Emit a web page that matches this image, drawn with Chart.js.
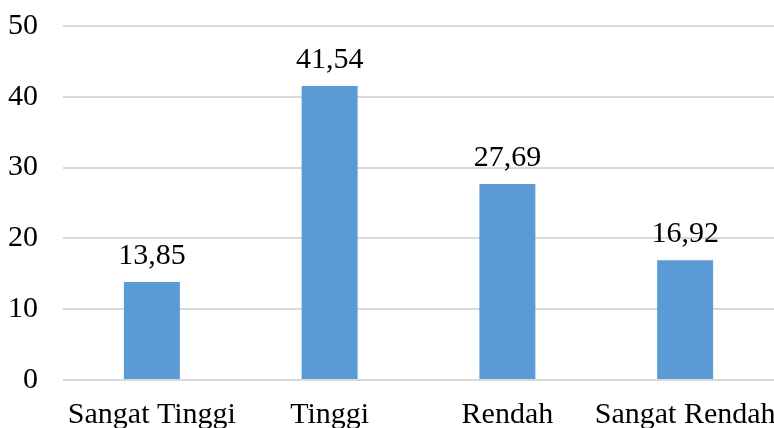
<!DOCTYPE html>
<html>
<head>
<meta charset="utf-8">
<script src="https://cdn.jsdelivr.net/npm/chart.js@4"></script>
<style>
  html, body { margin: 0; padding: 0; background: #fff; }
  #wrap { width: 774px; height: 428px; }
</style>
</head>
<body>
<div id="wrap"><canvas id="barChart" width="774" height="428"></canvas></div>
<script>
const categories = ["Sangat Tinggi", "Tinggi", "Rendah", "Sangat Rendah"];
const values = [13.85, 41.54, 27.69, 16.92];
const yTicks = [0, 10, 20, 30, 40, 50];

const FONT = "'Liberation Serif', 'Times New Roman', serif";

// angka di atas batang, pakai koma desimal
const valueLabels = {
  id: "valueLabels",
  afterDatasetsDraw(chart) {
    const ctx = chart.ctx;
    const meta = chart.getDatasetMeta(0);
    ctx.save();
    ctx.font = "30px " + FONT;
    ctx.fillStyle = "#000";
    ctx.textAlign = "center";
    ctx.textBaseline = "alphabetic";
    meta.data.forEach((bar, i) => {
      ctx.fillText(values[i].toFixed(2).replace(".", ","), bar.x, bar.y - 18);
    });
    ctx.restore();
  }
};

new Chart(document.getElementById("barChart").getContext("2d"), {
  type: "bar",
  data: {
    labels: categories,
    datasets: [{
      data: values,
      backgroundColor: "#5b9bd5",
      borderWidth: 0,
      barPercentage: 0.315,
      categoryPercentage: 1
    }]
  },
  options: {
    responsive: false,
    animation: false,
    layout: { padding: { top: 26, right: 0, left: 0, bottom: 0 } },
    plugins: { legend: { display: false }, tooltip: { enabled: false } },
    scales: {
      x: {
        grid: { display: false, drawTicks: false },
        border: { display: false },
        ticks: { color: "#000", font: { family: FONT, size: 30 }, padding: 17, autoSkip: false, maxRotation: 0 },
        afterFit(scale) {
          scale.height = 48;
          scale.paddingLeft = 0;
          scale.paddingRight = 0;
        }
      },
      y: {
        min: 0,
        max: 50,
        afterBuildTicks(scale) { scale.ticks = yTicks.map(v => ({ value: v })); },
        grid: { color: "#d9d9d9", lineWidth: 2, drawTicks: false },
        border: { display: false },
        ticks: { color: "#000", font: { family: FONT, size: 30 }, padding: 25 },
        afterFit(scale) {
          scale.width = 63;
          scale.paddingTop = 0;
          scale.paddingBottom = 0;
        }
      }
    }
  },
  plugins: [valueLabels]
});
</script>
</body>
</html>
